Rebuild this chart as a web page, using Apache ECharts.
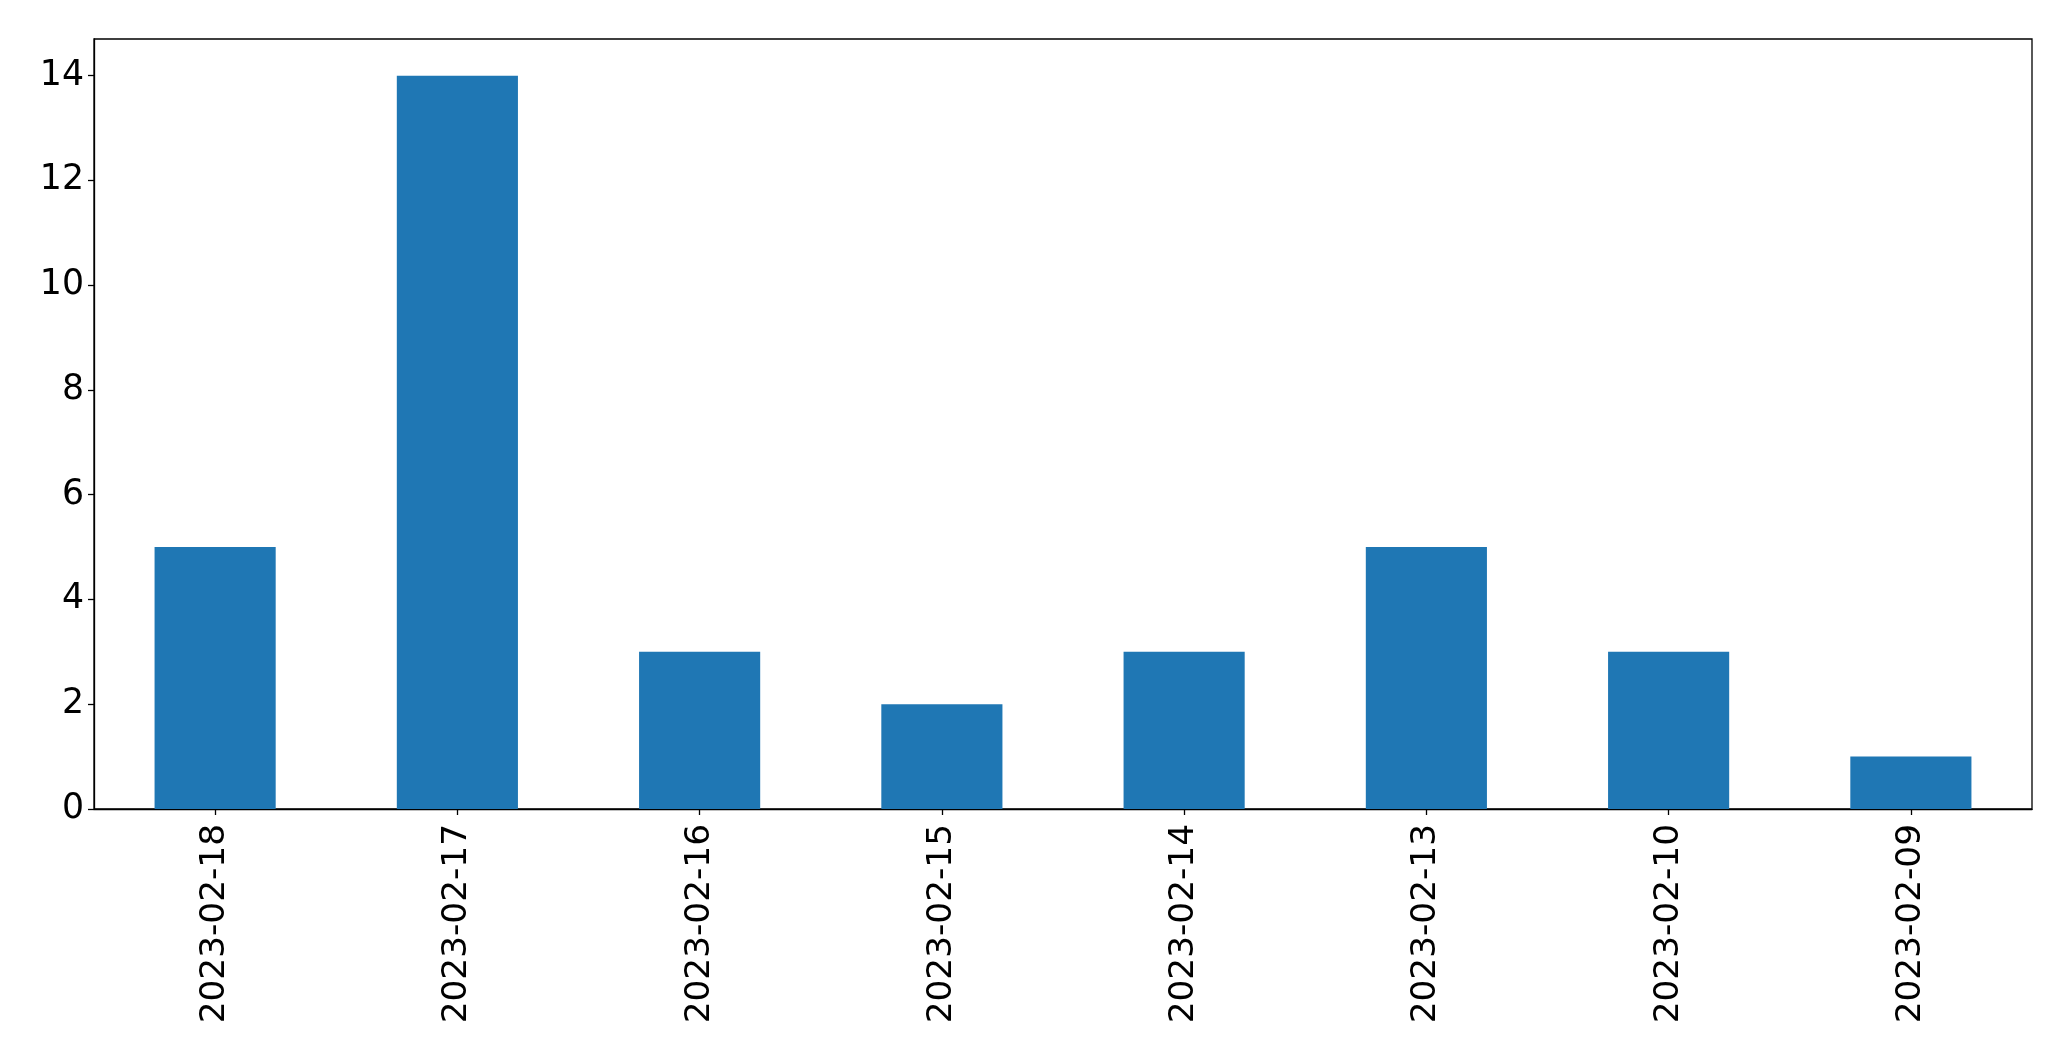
<!DOCTYPE html>
<html>
<head>
<meta charset="utf-8">
<script src="https://cdn.jsdelivr.net/npm/echarts@6/dist/echarts.min.js"></script>
<style>
html,body{margin:0;padding:0;background:#fff;}
#chart{width:2071px;height:1061px;}
</style>
</head>
<body>
<div id="chart"></div>
<script>
const categories = ['2023-02-18','2023-02-17','2023-02-16','2023-02-15','2023-02-14','2023-02-13','2023-02-10','2023-02-09'];
const values = [5, 14, 3, 2, 3, 5, 3, 1];
const yTicks = [0, 2, 4, 6, 8, 10, 12, 14];

const chart = echarts.init(document.getElementById('chart'), null, {renderer: 'canvas'});
const font = 'DejaVu Sans';
chart.setOption({
  animation: false,
  backgroundColor: '#fff',
  grid: {
    left: 94, right: 39, top: 39, bottom: 252,
    show: true, borderColor: '#000', borderWidth: 1.3, backgroundColor: 'transparent'
  },
  xAxis: {
    type: 'category',
    data: categories,
    boundaryGap: true,
    axisLine: {show: true, lineStyle: {color: '#000', width: 1.3}},
    axisTick: {show: true, alignWithLabel: true, length: 6, lineStyle: {color: '#000', width: 1.3}},
    axisLabel: {rotate: 90, fontFamily: font, fontSize: 34.3, color: '#000', margin: 15, interval: 0},
    splitLine: {show: false}
  },
  yAxis: {
    type: 'value',
    min: 0, max: 14.7, interval: 2,
    axisLine: {show: true, lineStyle: {color: '#000', width: 1.3}},
    axisTick: {show: true, length: 6, lineStyle: {color: '#000', width: 1.3}, customValues: yTicks},
    axisLabel: {fontFamily: font, fontSize: 34.7, color: '#000', margin: 10, customValues: yTicks},
    splitLine: {show: false}
  },
  series: [{
    type: 'bar',
    data: values,
    barWidth: '50%',
    itemStyle: {color: '#1f77b4'}
  }]
});
</script>
</body>
</html>
